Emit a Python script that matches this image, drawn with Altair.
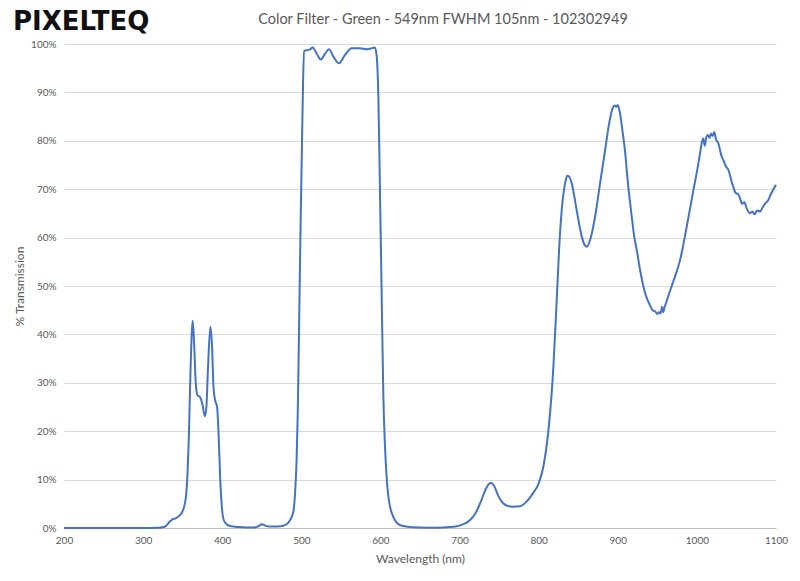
import altair as alt
import pandas as pd

# (wavelength nm, % transmission)
points = [
    (200, 0.0), (250, 0.0), (300, 0.0), (320, 0.05), (328, 0.3), (333, 1.2), (337, 1.8), (341, 2.0),
    (345, 2.4), (349, 3.2), (352, 4.5), (355, 8.0), (358, 20.0), (360, 33.0), (362.7, 42.8),
    (364.5, 38.0), (366.5, 30.0), (368.5, 27.5), (372, 27.0), (375, 25.5), (378, 23.1), (380, 25.0),
    (382, 33.0), (385, 41.6), (387, 38.0), (389, 29.0), (391, 26.4), (393.5, 25.0), (395.5, 19.0),
    (397.5, 10.0), (399.5, 4.4), (402, 1.6), (406, 0.7), (412, 0.35), (420, 0.2), (430, 0.1),
    (440, 0.1), (446, 0.4), (450, 0.8), (454, 0.5), (460, 0.3), (470, 0.3), (478, 0.5), (483, 1.0),
    (487, 2.0), (490, 3.5), (492, 7.0), (494, 14.0), (495.5, 24.0), (497, 40.0), (499, 62.0),
    (501.5, 86.0), (503.4, 98.6), (506.8, 98.7), (511, 98.9), (514.4, 99.3), (519.5, 98.0),
    (524.5, 96.8), (530, 98.0), (535, 98.9), (540.5, 97.4), (547.7, 96.0), (555, 97.7),
    (563.7, 99.1), (574, 99.1), (582.7, 98.9), (589, 99.1), (593, 99.3), (595.3, 97.4),
    (597.4, 89.0), (599.5, 68.5), (601.6, 47.8), (603.7, 27.0), (606, 16.0), (609, 8.0),
    (612, 4.5), (616, 2.4), (620, 1.2), (626, 0.5), (640, 0.15), (660, 0.05), (680, 0.1),
    (695, 0.3), (705, 0.8), (713, 1.6), (720, 3.0), (727, 5.5), (733, 8.0), (737, 9.1),
    (740, 9.3), (744, 8.6), (748, 7.0), (753, 5.5), (760, 4.6), (767, 4.4), (776.5, 4.5),
    (785, 5.5), (793, 7.2), (800, 9.2), (806, 12.7), (812, 19.6), (818.6, 33.3), (822.8, 47.1),
    (827, 60.9), (830.5, 68.0), (833.4, 71.2), (836, 72.8), (838.5, 72.6), (841.8, 71.2),
    (848, 65.7), (854.5, 60.2), (858, 58.5), (861, 58.1), (865, 59.5), (871.3, 64.3),
    (877.6, 71.2), (884, 78.1), (889, 83.5), (893, 86.5), (896, 87.3), (898, 87.0), (900, 87.4),
    (903, 85.5), (906, 82.0), (909, 78.1), (913, 71.0), (917.7, 64.3), (921, 60.0), (924, 57.4),
    (928, 53.5), (932.4, 49.9), (936, 47.8), (940.8, 46.0), (944, 45.0), (947, 44.8),
    (950, 44.2), (952, 44.6), (954, 44.3), (956, 45.7), (957.6, 44.6), (959, 45.5), (961, 46.5),
    (964, 48.0), (970.3, 51.0), (978.8, 55.4), (987.2, 62.3), (995.6, 69.8), (1001, 74.5),
    (1004, 77.4), (1006, 79.5), (1008, 80.5), (1010, 79.0), (1012, 80.8), (1014, 81.2),
    (1016, 80.6), (1018, 81.5), (1020, 81.0), (1022, 81.8), (1024, 80.4), (1027, 79.5),
    (1031.4, 76.7), (1034, 75.8), (1037, 74.6), (1039.8, 74.0), (1042, 72.8), (1044, 71.5),
    (1046, 70.5), (1049, 69.2), (1052, 69.0), (1054.6, 68.1), (1057, 67.0), (1060, 67.3),
    (1063, 66.0), (1067, 65.0), (1070, 65.4), (1073, 64.8), (1076, 65.6), (1080, 65.4),
    (1083, 66.2), (1086, 67.0), (1090.4, 67.8), (1093, 68.8), (1096, 69.8), (1100, 70.9),
]
wavelength = [p[0] for p in points]
transmission = [p[1] for p in points]

df = pd.DataFrame({"wl": wavelength, "t": transmission})

title_text = "Color Filter - Green - 549nm FWHM 105nm - 102302949"
logo_text = "PIXELTEQ"
grey = "#595959"
font = "Lato"

line = alt.Chart(df).mark_line(color="#4472C4", strokeWidth=2, interpolate="monotone").encode(
    x=alt.X("wl:Q", scale=alt.Scale(domain=[200, 1100], nice=False),
            axis=alt.Axis(values=list(range(200, 1101, 100)), format="d", title="Wavelength (nm)",
                          grid=False, ticks=False, domainColor="#bfbfbf", labelPadding=7,
                          titlePadding=8, labelFlush=False)),
    y=alt.Y("t:Q", scale=alt.Scale(domain=[0, 100], nice=False),
            axis=alt.Axis(values=list(range(0, 101, 10)), labelExpr="datum.value + '%'",
                          title="% Transmission", domain=False, ticks=False, labelPadding=8,
                          gridColor="#d9d9d9", titlePadding=4, labelFlush=False)),
)

title = alt.Chart(pd.DataFrame({"text": [title_text]})).mark_text(
    font=font, fontSize=14.5, color=grey, align="center", baseline="middle"
).encode(x=alt.value(379), y=alt.value(-24), text="text:N")

logo = alt.Chart(pd.DataFrame({"text": [logo_text]})).mark_text(
    font="DejaVu Sans", fontSize=26, fontWeight="bold", color="#111111", align="left",
    baseline="top"
).encode(x=alt.value(-51), y=alt.value(-35), text="text:N")

chart = alt.layer(line, title, logo).properties(
    width=712, height=484,
    padding={"left": 56, "top": 36, "right": 16, "bottom": 45},
    autosize=alt.AutoSizeParams(type="none"),
).configure_view(stroke=None).configure_axis(
    labelFont=font, titleFont=font, labelColor=grey, titleColor=grey, labelFontSize=10,
    titleFontSize=12, titleFontWeight="normal"
)

chart.save("out.html", embed_options={"renderer": "svg", "actions": False})
